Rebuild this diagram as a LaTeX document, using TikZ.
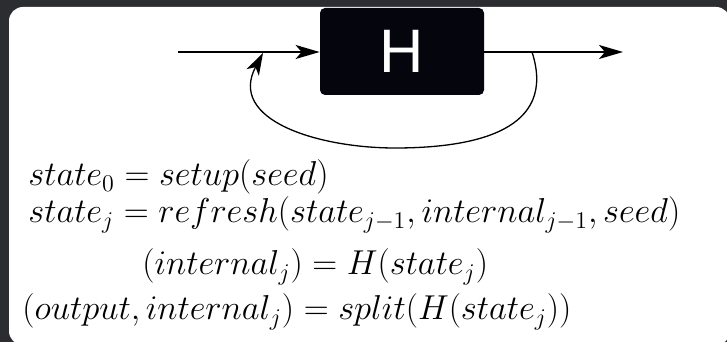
\documentclass[tikz,border=0pt]{standalone}
\usepackage{fontspec}
\newfontfamily\boxfont{Liberation Sans}
\usetikzlibrary{arrows.meta,positioning}
\definecolor{discord}{HTML}{2B2D31}
\definecolor{inkblack}{HTML}{05060D}

\begin{document}
\begin{tikzpicture}[
    x=0.5pt, y=0.5pt,
    every node/.style={inner sep=0pt},
    hashbox/.style={fill=inkblack, rounded corners=2.5pt, minimum width=82pt,
        minimum height=43.5pt, text=white, font=\boxfont\fontsize{30.7}{36}\selectfont},
    flow/.style={line width=0.9pt, -{Stealth[length=12pt, width=7pt, inset=3pt]}},
    feedback/.style={line width=0.65pt, -{Stealth[length=11pt, width=7pt, inset=3pt]}},
    eqline/.style={anchor=base west, font=\fontsize{17.28}{21}\selectfont},
]

% page and panel
\useasboundingbox (0,0) rectangle (727,342);
\fill[discord] (0,0) rectangle (727,342);
\fill[white, rounded corners=7pt] (9,-3) rectangle (730,335);

% generator
\node[hashbox] (H) at (402,290.5) {H};
\coordinate (input) at (178,290);
\coordinate (output) at (623,290);
\draw[flow] (input) -- (H.west |- input);
\draw[flow] (H.east |- output) -- (output);

% feedback loop
\coordinate (split) at (532,290);
\coordinate (loopbottom) at (395,194);
\coordinate (join) at (263,289);
\draw[feedback] (split) to[out=-72, in=0, looseness=1.25] (loopbottom)
    to[out=180, in=-118, looseness=1.2] (join);

% equations
\node[eqline] (seedeq) at (28,156) {$state_0 = setup(seed)$};
\node[eqline] (refresheq) at (28,119)
    {$state_j = refresh(state_{j-1}, internal_{j-1}, seed)$};
\node[eqline] (hasheq) at (142,67) {$(internal_j) = H(state_j)$};
\node[eqline] (spliteq) at (22,22)
    {$(output, internal_j) = split(H(state_j))$};

\end{tikzpicture}
\end{document}
